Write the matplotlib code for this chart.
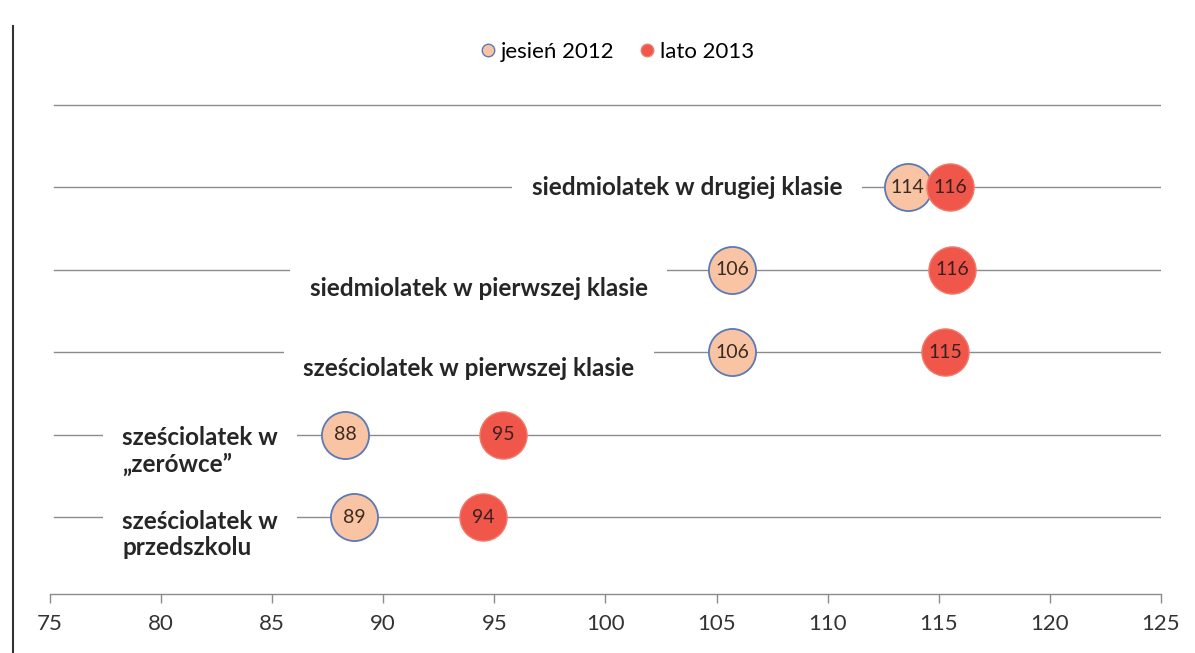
"""
Dot plot: scores of six- and seven-year-olds, autumn 2012 vs summer 2013.
"""

import matplotlib
matplotlib.use('Agg')
import matplotlib.pyplot as plt
from matplotlib.lines import Line2D

plt.rcParams['font.family'] = ['Lato', 'DejaVu Sans']

# data (rows from bottom to top)
categories = ['sześciolatek w\nprzedszkolu',
              'sześciolatek w\n„zerówce”',
              'sześciolatek w pierwszej klasie',
              'siedmiolatek w pierwszej klasie',
              'siedmiolatek w drugiej klasie']
autumn_2012 = [88.7, 88.3, 105.7, 105.7, 113.6]
summer_2013 = [94.5, 95.4, 115.3, 115.6, 115.5]
autumn_labels = ['89', '88', '106', '106', '114']
summer_labels = ['94', '95', '115', '116', '116']
series_names = ['jesień 2012', 'lato 2013']
x_ticks = [75, 80, 85, 90, 95, 100, 105, 110, 115, 120, 125]

# label placement per row: (x, y offset, horizontal alignment)
label_pos = [(78.25, -0.21, 'left'),
             (78.25, -0.2, 'left'),
             (86.4, -0.2, 'left'),
             (86.7, -0.23, 'left'),
             (110.65, 0.0, 'right')]

autumn_face = '#F8C4A4'
autumn_edge = '#5B79B8'
summer_face = '#F0574A'
summer_edge = '#F07B6C'

fig = plt.figure(figsize=(11.95, 6.53), dpi=100)
ax = fig.add_axes([0.0418, 0.0904, 0.9297, 0.8119])

rows = list(range(1, len(categories) + 1))

# horizontal grid lines (one extra empty row on top)
for y in rows + [len(categories) + 1]:
    ax.plot([75.2, 125], [y, y], color='#8C8C8C', lw=1.0, zorder=1)

# category labels with white boxes hiding the grid line
for y, cat, (lx, dy, ha) in zip(rows, categories, label_pos):
    ax.text(lx, y + dy, cat, ha=ha, va='center', fontsize=17.5,
            fontweight='bold', color='#262626', linespacing=1.15, zorder=2,
            bbox=dict(boxstyle='square,pad=0.8', fc='white', ec='none'))

# markers
ax.scatter(autumn_2012, rows, s=1150, color=autumn_face, edgecolor=autumn_edge,
           linewidth=1.3, zorder=3)
ax.scatter(summer_2013, rows, s=1150, color=summer_face, edgecolor=summer_edge,
           linewidth=1.0, zorder=4)
for x, y, lab in zip(autumn_2012, rows, autumn_labels):
    ax.text(x, y, lab, ha='center', va='center', fontsize=14,
            color='#3a2a20', zorder=5)
for x, y, lab in zip(summer_2013, rows, summer_labels):
    ax.text(x, y, lab, ha='center', va='center', fontsize=14,
            color='#3a2020', zorder=5)

ax.set_xlim(75, 125)
ax.set_ylim(0.066, 6.5)
ax.set_xticks(x_ticks)
ax.set_yticks([])
for s in ['top', 'right', 'left']:
    ax.spines[s].set_visible(False)
ax.spines['bottom'].set_color('#8C8C8C')
ax.spines['bottom'].set_linewidth(1.0)
ax.tick_params(axis='x', direction='out', length=6.5, width=1.0,
               color='#8C8C8C', labelsize=16, labelcolor='#333333', pad=8)

# legend
handles = [
    Line2D([], [], marker='o', ls='none', markersize=9,
           markerfacecolor=autumn_face, markeredgecolor=autumn_edge),
    Line2D([], [], marker='o', ls='none', markersize=9,
           markerfacecolor=summer_face, markeredgecolor=summer_edge),
]
fig.legend(handles, series_names, loc='center', bbox_to_anchor=(0.515, 0.92),
           ncol=2, frameon=False, fontsize=16, handletextpad=0.05,
           columnspacing=1.0, handlelength=1.0)

# left frame border of the scanned page
fig.add_artist(Line2D([0.011, 0.011], [0.0, 0.96], color='#333333', lw=1.5))

fig.savefig('out.png', dpi=100)
